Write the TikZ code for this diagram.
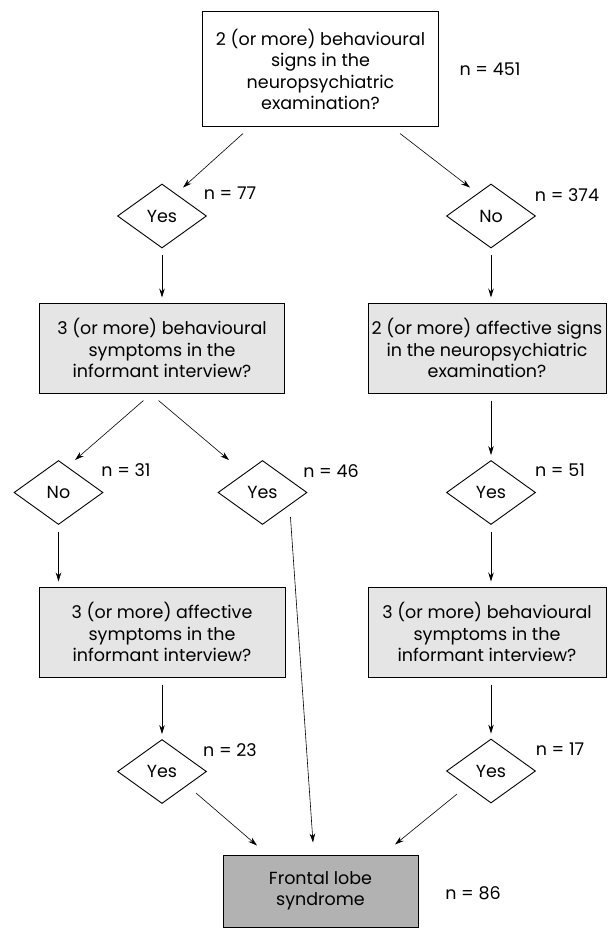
\documentclass[tikz,border=0pt]{standalone}
\usepackage{fontspec}
\setmainfont{Poppins}
\usetikzlibrary{shapes.geometric,arrows.meta}
\definecolor{lightfill}{gray}{0.9}
\definecolor{darkfill}{gray}{0.7}
\begin{document}
\begin{tikzpicture}[x=1pt,y=-1pt,
    every node/.style={font=\fontsize{17.5}{21.5}\selectfont},
    question/.style={draw,line width=1pt,align=center,inner sep=0pt,minimum height=90pt},
    answer/.style={draw,diamond,aspect=1.4,line width=0.9pt,inner sep=0pt,minimum width=89pt,minimum height=64pt},
    count/.style={inner sep=0pt},
    arr/.style={-{Stealth[length=9pt,width=5.5pt]},line width=0.6pt},
    vert/.style={arr,shorten <=7pt,shorten >=5pt}]
    \useasboundingbox (0,0) rectangle (608,928);
    \node[question,minimum width=236pt,minimum height=115pt] (signs) at (320.5,69.5) {2 (or more) behavioural\\signs in the\\neuropsychiatric\\examination?};
    \node[count] (n451) at (490,69) {n = 451};
    \node[answer] (yes1) at (162,216) {Yes};
    \node[count] (n77) at (230,193) {n = 77};
    \node[answer] (no1) at (491,216) {No};
    \node[count] (n374) at (567,195) {n = 374};
    \node[question,fill=lightfill,minimum width=245pt] (behsym) at (162,348) {3 (or more) behavioural\\symptoms in the\\informant interview?};
    \node[question,fill=lightfill,minimum width=238pt] (affsign) at (487,348) {2 (or more) affective signs\\in the neuropsychiatric\\examination?};
    \node[answer] (no2) at (58.5,492.5) {No};
    \node[count] (n31) at (126,470) {n = 31};
    \node[answer] (yes2) at (262.5,492.5) {Yes};
    \node[count] (n46) at (331,471) {n = 46};
    \node[answer] (yes3) at (491,492.5) {Yes};
    \node[count] (n51) at (560,470) {n = 51};
    \node[question,fill=lightfill,minimum width=246pt] (affsym) at (162,632) {3 (or more) affective\\symptoms in the\\informant interview?};
    \node[question,fill=lightfill,minimum width=238pt] (behsym2) at (487,632) {3 (or more) behavioural\\symptoms in the\\informant interview?};
    \node[answer] (yes4) at (162,771.5) {Yes};
    \node[count] (n23) at (230,750) {n = 23};
    \node[answer] (yes5) at (491,771) {Yes};
    \node[count] (n17) at (560,749) {n = 17};
    \node[question,fill=darkfill,minimum width=195pt,minimum height=72pt] (frontal) at (320.5,891) {Frontal lobe\\syndrome};
    \node[count] (n86) at (473,893) {n = 86};
    \draw[arr] ([xshift=-77.5pt,yshift=-6pt]signs.south) -- ([xshift=21pt,yshift=-4pt]yes1.north);
    \draw[arr] ([xshift=79.5pt,yshift=-6pt]signs.south) -- ([xshift=-21pt,yshift=-4pt]no1.north);
    \draw[vert] (yes1.south) -- (yes1.south |- behsym.north);
    \draw[vert] (no1.south) -- (no1.south |- affsign.north);
    \draw[arr] ([xshift=-18.5pt,yshift=-7pt]behsym.south) -- ([xshift=16.5pt]no2.north);
    \draw[arr] ([xshift=-3.5pt,yshift=-7pt]behsym.south) -- ([xshift=-33.5pt]yes2.north);
    \draw[vert] (affsign.south -| yes3.north) -- (yes3.north);
    \draw[vert] (no2.south) -- (no2.south |- affsym.north);
    \draw[vert] (yes3.south) -- (yes3.south |- behsym2.north);
    \draw[vert] (affsym.south -| yes4.north) -- (yes4.north);
    \draw[vert] (behsym2.south -| yes5.north) -- (yes5.north);
    \draw[arr] ([xshift=-11pt,yshift=-21.5pt]yes4.east) -- ([xshift=-63.5pt,yshift=9pt]frontal.north);
    \draw[arr] ([xshift=-17pt,yshift=-24.5pt]yes2.east) -- ([xshift=-7.5pt,yshift=12pt]frontal.north);
    \draw[arr] ([xshift=11pt,yshift=-23pt]yes5.west) -- ([xshift=74.5pt,yshift=10pt]frontal.north);
\end{tikzpicture}
\end{document}
